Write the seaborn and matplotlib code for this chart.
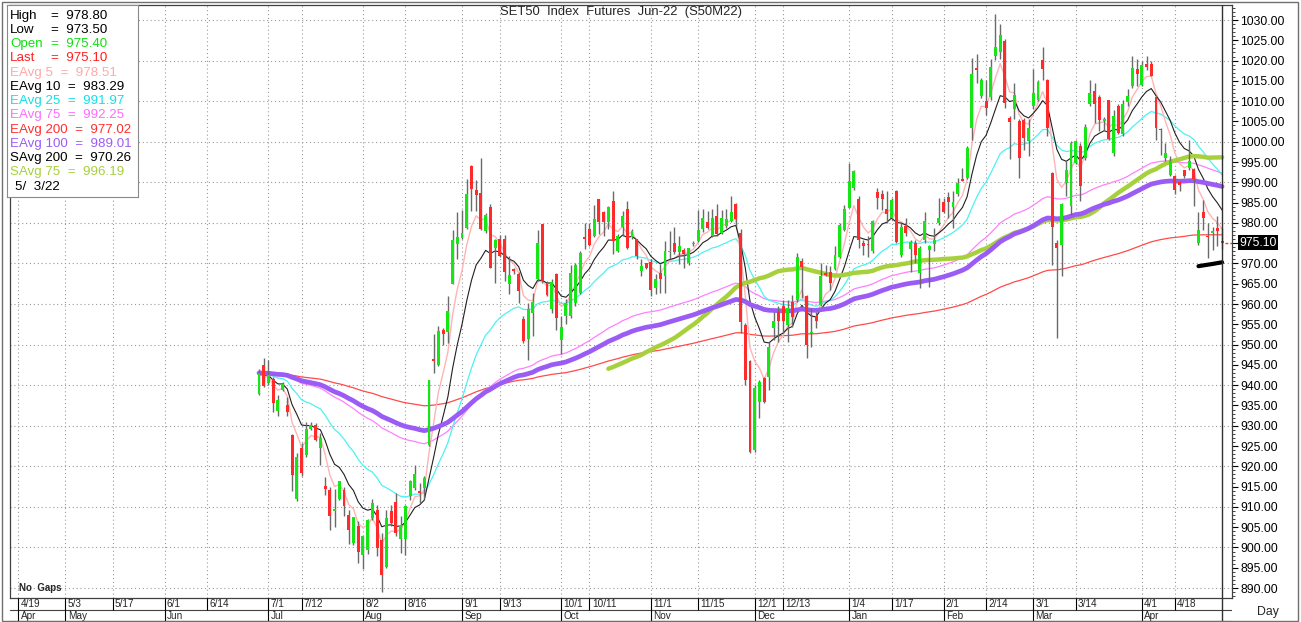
import numpy as np
import pandas as pd
import matplotlib
matplotlib.use("Agg")
import matplotlib.pyplot as plt
import matplotlib.transforms as mtransforms
from matplotlib.ticker import MultipleLocator
import seaborn as sns

# daily OHLC of S50M22 (2021-06-29 .. 2022-05-03)
opens = [937.7, 944.9, 940.6, 941.4, 933.6, 938.8, 935.2, 927.7, 911.9, 924.5,
         922.9, 929.2, 930.1, 924.5, 915.1, 914.1, 909.1, 911.9, 914.2, 908.1,
         901.1, 905.2, 898.2, 899.4, 907.2, 909.3, 901.9, 895.1, 909.1, 911.1,
         902.1, 902.1, 912.6, 914.6, 914.0, 914.6, 925.2, 946.5, 944.9, 953.7,
         953.1, 964.9, 974.7, 976.2, 978.8, 994.1, 988.1, 987.3, 978.0, 984.0,
         973.9, 976.0, 976.0, 964.9, 968.6, 967.3, 956.4, 951.3, 957.9, 966.1,
         979.7, 965.1, 958.7, 967.3, 951.1, 957.0, 957.0, 960.2, 962.6, 976.5,
         978.4, 976.8, 985.8, 982.6, 980.2, 985.4, 973.1, 979.1, 983.5, 976.4,
         976.0, 968.1, 970.0, 970.4, 964.0, 967.7, 966.9, 972.7, 975.0, 972.7,
         973.3, 970.0, 974.7, 975.6, 978.4, 980.1, 976.8, 981.6, 977.6, 979.3,
         980.5, 984.6, 977.6, 954.9, 946.0, 924.0, 935.9, 941.7, 942.1, 954.0,
         958.1, 959.5, 954.9, 960.6, 961.0, 970.7, 961.9, 952.8, 957.1, 959.8,
         967.6, 967.8, 968.6, 971.7, 978.3, 983.7, 988.6, 986.0, 975.0, 974.8,
         973.0, 987.5, 987.0, 983.4, 981.2, 987.8, 972.1, 979.3, 973.5, 975.0,
         967.6, 975.7, 973.2, 974.9, 980.0, 985.1, 986.4, 983.9, 987.0, 990.8,
         991.1, 1003.4, 1018.2, 1011.2, 1010.0, 1011.1, 1021.1, 1022.1, 1024.8, 1005.9,
         1008.0, 1005.1, 1005.3, 1000.1, 1008.8, 1010.4, 1020.1, 1015.2, 992.3, 975.0,
         974.6, 989.8, 984.1, 994.8, 999.0, 996.0, 1009.2, 1012.5, 1011.1, 1005.2,
         1010.2, 997.2, 1008.9, 1001.8, 1009.8, 1013.7, 1018.0, 1013.9, 1019.1, 1019.1,
         1011.1, 1003.2, 996.0, 991.9, 991.5, 990.0, 993.0, 993.5, 993.3, 975.0,
         982.8, 976.8, 977.5, 978.7, 975.4]
highs = [944.0, 946.7, 946.1, 942.0, 937.6, 940.7, 937.0, 928.0, 923.3, 925.8,
         930.9, 931.0, 930.7, 928.2, 917.4, 915.0, 914.4, 916.5, 915.0, 909.3,
         907.5, 906.4, 902.9, 907.0, 911.9, 910.5, 903.5, 909.3, 910.5, 913.4,
         907.7, 910.5, 916.7, 920.4, 916.0, 917.5, 941.3, 952.5, 954.6, 954.1,
         962.0, 978.3, 982.7, 983.2, 990.8, 994.2, 990.6, 996.1, 982.5, 984.6,
         976.1, 977.0, 977.0, 971.9, 969.0, 967.9, 957.0, 960.3, 962.8, 978.3,
         979.8, 965.7, 966.1, 967.7, 957.0, 961.2, 969.5, 970.0, 973.0, 980.0,
         980.0, 984.4, 986.0, 983.0, 984.2, 987.9, 977.2, 983.0, 985.4, 978.4,
         976.1, 971.0, 970.2, 971.0, 967.3, 969.8, 975.6, 978.0, 979.1, 976.8,
         973.9, 973.9, 975.5, 983.2, 983.4, 983.0, 983.4, 984.6, 983.2, 983.4,
         986.7, 985.0, 978.4, 955.3, 946.2, 940.0, 941.3, 942.1, 950.7, 958.1,
         959.4, 961.0, 961.0, 962.3, 972.6, 971.3, 962.3, 959.0, 958.1, 970.1,
         969.7, 969.4, 974.2, 980.0, 984.5, 994.8, 993.1, 986.5, 975.8, 976.7,
         980.8, 988.6, 988.2, 987.8, 986.1, 988.2, 980.0, 981.2, 975.8, 975.8,
         974.2, 982.8, 974.6, 978.7, 986.1, 986.1, 987.5, 987.8, 991.1, 993.5,
         998.9, 1020.7, 1021.5, 1015.8, 1015.3, 1020.5, 1031.4, 1028.9, 1025.4, 1006.3,
         1014.4, 1005.5, 1005.9, 1005.5, 1018.0, 1015.2, 1023.4, 1015.5, 992.5, 975.8,
         985.0, 995.2, 1000.1, 1000.5, 999.7, 1004.3, 1015.1, 1014.5, 1011.6, 1006.0,
         1010.4, 1007.9, 1009.4, 1010.4, 1012.9, 1021.1, 1020.3, 1019.9, 1021.1, 1019.9,
         1011.6, 1003.4, 999.7, 996.4, 991.9, 990.2, 993.1, 1000.5, 993.5, 982.6,
         985.7, 980.0, 979.1, 981.6, 978.8]
lows = [937.5, 939.5, 940.0, 933.3, 932.3, 938.5, 932.5, 914.0, 911.5, 917.5,
        922.3, 929.0, 926.2, 920.4, 913.0, 904.2, 905.0, 911.7, 907.7, 900.8,
        900.6, 896.1, 894.6, 898.5, 906.8, 897.8, 889.0, 895.0, 905.2, 902.7,
        898.6, 898.2, 911.8, 914.2, 910.9, 912.0, 925.0, 943.0, 944.8, 950.0,
        950.3, 964.9, 971.0, 976.0, 978.4, 983.0, 983.0, 978.3, 977.6, 968.8,
        965.3, 971.5, 965.7, 962.4, 967.5, 960.2, 950.3, 946.2, 952.1, 965.7,
        965.3, 962.0, 957.9, 953.7, 947.6, 955.0, 956.6, 959.5, 962.4, 973.5,
        974.3, 976.4, 977.2, 976.8, 978.4, 972.3, 972.7, 976.8, 973.5, 976.0,
        971.2, 966.9, 968.6, 962.0, 962.4, 962.8, 962.6, 971.0, 972.3, 969.8,
        969.0, 969.5, 974.3, 975.2, 977.8, 978.4, 976.4, 976.8, 977.2, 978.8,
        980.1, 979.3, 952.9, 940.0, 923.2, 923.6, 931.8, 935.5, 938.8, 951.2,
        950.7, 952.8, 950.7, 954.4, 960.6, 961.6, 946.6, 949.5, 954.0, 959.4,
        966.8, 963.5, 968.4, 971.3, 978.0, 983.6, 988.2, 973.8, 972.0, 971.7,
        972.6, 983.5, 983.2, 980.0, 980.8, 975.0, 971.7, 976.7, 968.0, 970.1,
        963.9, 975.0, 964.3, 973.0, 979.5, 982.4, 981.2, 978.7, 986.5, 990.2,
        990.7, 1000.5, 1014.5, 1010.8, 1006.7, 1010.4, 1020.1, 1020.3, 1008.4, 995.8,
        1005.5, 991.0, 998.0, 996.4, 1008.0, 1010.0, 1015.3, 1001.4, 969.7, 951.6,
        966.8, 986.5, 982.0, 994.4, 985.3, 995.6, 1008.8, 1004.7, 1002.6, 1002.8,
        1000.5, 996.4, 1001.8, 1001.5, 1008.8, 1013.3, 1013.7, 1013.7, 1017.8, 1016.2,
        1000.5, 996.8, 995.2, 991.5, 987.0, 987.8, 991.1, 993.1, 984.1, 974.6,
        978.3, 971.3, 973.4, 974.2, 973.5]
closes = [943.0, 939.8, 942.6, 935.6, 936.3, 940.2, 933.3, 917.9, 922.2, 918.4,
          929.2, 930.3, 926.6, 927.0, 914.5, 907.7, 909.4, 916.3, 910.3, 904.2,
          907.4, 898.8, 902.7, 906.8, 910.9, 899.8, 893.3, 907.2, 906.0, 903.5,
          905.6, 910.1, 916.3, 918.1, 913.3, 917.0, 941.2, 945.9, 953.3, 952.5,
          958.3, 975.8, 976.4, 977.4, 987.1, 988.3, 986.9, 978.6, 982.0, 969.0,
          975.8, 971.9, 967.9, 967.1, 968.1, 963.2, 950.9, 958.7, 960.5, 975.0,
          965.7, 962.1, 965.5, 956.6, 954.4, 960.3, 967.7, 969.5, 972.5, 976.1,
          974.5, 980.9, 980.2, 980.1, 983.8, 975.6, 976.8, 981.7, 973.9, 977.9,
          971.9, 969.4, 969.0, 963.5, 966.1, 966.1, 973.1, 973.1, 972.7, 974.2,
          972.3, 973.7, 975.1, 978.3, 981.2, 978.8, 981.1, 977.2, 981.1, 981.0,
          982.7, 980.9, 955.6, 941.3, 923.6, 939.2, 940.9, 935.9, 949.5, 955.7,
          955.9, 955.7, 959.0, 956.9, 971.6, 969.1, 949.9, 953.2, 955.9, 966.8,
          967.2, 965.1, 972.1, 979.5, 983.4, 990.2, 992.7, 975.8, 974.2, 974.5,
          980.4, 986.1, 985.9, 982.3, 985.7, 975.4, 979.1, 977.5, 975.4, 972.1,
          973.8, 980.4, 974.2, 975.8, 981.2, 982.8, 985.1, 985.1, 989.8, 990.4,
          998.5, 1016.6, 1017.8, 1015.3, 1008.4, 1018.5, 1023.4, 1026.2, 1009.6, 1004.8,
          1011.6, 996.0, 1000.9, 1003.4, 1012.1, 1014.7, 1018.0, 1003.4, 979.1, 973.8,
          984.7, 993.0, 999.7, 1000.1, 989.0, 1003.7, 1012.1, 1009.2, 1005.3, 1005.5,
          1000.7, 1006.3, 1002.2, 1009.2, 1011.3, 1018.2, 1016.6, 1018.8, 1018.5, 1016.3,
          1003.4, 1002.8, 997.2, 995.2, 988.2, 989.4, 991.5, 995.2, 990.7, 978.3,
          981.2, 976.5, 977.9, 978.1, 975.1]

# SET closed days inside the data range
holidays = ["2021-07-26", "2021-07-28", "2021-08-12", "2021-09-24", "2021-10-13",
            "2021-10-22", "2021-12-06", "2021-12-10", "2021-12-31", "2022-01-03",
            "2022-02-16", "2022-04-06", "2022-04-13", "2022-04-14", "2022-04-15",
            "2022-05-02"]

date_ticks = ["2021-04-19", "2021-05-03", "2021-05-17", "2021-06-01", "2021-06-14",
              "2021-07-01", "2021-07-12", "2021-08-02", "2021-08-16", "2021-09-01",
              "2021-09-13", "2021-10-01", "2021-10-11", "2021-11-01", "2021-11-15",
              "2021-12-01", "2021-12-13", "2022-01-04", "2022-01-17", "2022-02-01",
              "2022-02-14", "2022-03-01", "2022-03-14", "2022-04-01", "2022-04-18"]

legend_rows = [("EAvg 5", "978.51", "#ffa8a8"), ("EAvg 10", "983.29", "black"),
               ("EAvg 25", "991.97", "#14e0e8"), ("EAvg 75", "992.25", "#ff6cff"),
               ("EAvg 200", "977.02", "#ff3030"), ("EAvg 100", "989.01", "#9b5cf6"),
               ("SAvg 200", "970.26", "black"), ("SAvg 75", "996.19", "#a6d13c")]
ohlc_rows = [("High", "978.80", "black"), ("Low", "973.50", "black"),
             ("Open", "975.40", "#10e010"), ("Last", "975.10", "#ff2020")]

# ---- x positions (no gaps: only trading sessions take a slot) ----
pre = pd.bdate_range("2021-04-19", "2021-06-28")
sess = pd.bdate_range("2021-06-29", "2022-05-03", freq="C", holidays=holidays)
all_dates = pre.append(sess)
pos_of = {d: i for i, d in enumerate(all_dates)}

df = pd.DataFrame({"x": np.arange(len(pre), len(all_dates)), "open": opens,
                   "high": highs, "low": lows, "close": closes})
for n in (5, 10, 25, 75, 100, 200):
    df[f"ema{n}"] = df["close"].ewm(span=n, adjust=False).mean()
df["sma75"] = df["close"].rolling(75).mean()
df["sma200"] = df["close"].rolling(200).mean()

sns.set_style("white")
plt.rcParams["font.family"] = ["Liberation Sans", "DejaVu Sans"]

W, H = 1301, 622
fig = plt.figure(figsize=(W / 100, H / 100), dpi=100)


def fbox(x0, y0, x1, y1):
    return [x0 / W, 1 - y1 / H, (x1 - x0) / W, (y1 - y0) / H]


ax = fig.add_axes(fbox(10, 5, 1232, 598))
axb = fig.add_axes(fbox(10, 598, 1232, 621))
xlim = (-1.75, 257.1)

# grid
for lv in range(890, 1031, 10):
    ax.axhline(lv, color="#9a9a9a", lw=0.8, ls=(0, (1, 2.5)), zorder=0)
tick_pos = [pos_of[pd.Timestamp(d)] for d in date_ticks]
for p in tick_pos:
    ax.axvline(p, color="#9a9a9a", lw=0.8, ls=(0, (1, 2.5)), zorder=0)

# moving averages
ma_style = [("ema200", "#ff4a4a", 0.9), ("ema75", "#ff80ff", 0.9), ("ema25", "#4cf2f2", 0.9),
            ("ema5", "#ffb4b4", 1.0), ("ema10", "#202020", 0.8),
            ("sma75", "#a6d13c", 3.2), ("ema100", "#9b5cf6", 3.4), ("sma200", "black", 3.0)]
for col, c, lw in ma_style:
    sns.lineplot(data=df, x="x", y=col, ax=ax, color=c, linewidth=lw, zorder=2)

# candles
ax.vlines(df["x"], df["low"], df["high"], color="#6a6a6a", lw=1.0, zorder=3)
up = df["close"] >= df["open"]
bottom = np.minimum(df["open"], df["close"])
height = np.maximum((df["close"] - df["open"]).abs(), 0.35)
ax.bar(df["x"][up], height[up], bottom=bottom[up], width=0.62, color="#16e616", lw=0, zorder=4)
ax.bar(df["x"][~up], height[~up], bottom=bottom[~up], width=0.62, color="#ff2b2b", lw=0, zorder=4)

last_x = df["x"].iloc[-1]
ax.axvline(last_x, color="#303030", lw=1.0, zorder=5)
ax.hlines(closes[-1], last_x + 0.6, xlim[1], color="#ff3030", lw=1, ls=(0, (2, 1.5)), zorder=5)

ax.set_xlim(*xlim)
ax.set_ylim(887.54, 1033.7)
ax.set_xlabel("")
ax.set_ylabel("")
ax.set_xticks([])
ax.yaxis.tick_right()
yt = np.arange(890, 1031, 5)
ax.set_yticks(yt)
ax.set_yticklabels(["" if v == 975 else f"{v:.2f}" for v in yt])
ax.yaxis.set_minor_locator(MultipleLocator(1))
ax.tick_params(axis="y", which="major", length=4, width=0.8, pad=2, labelsize=8.8, colors="black")
ax.tick_params(axis="y", which="minor", length=2, width=0.6)
for s in ax.spines.values():
    s.set_color("#404040")
    s.set_linewidth(0.9)

trans = mtransforms.blended_transform_factory(ax.transAxes, ax.transData)
ax.text(1.0058, closes[-1], f"{closes[-1]:.2f}", transform=trans, color="white", fontsize=8.8,
        va="center", ha="left", bbox=dict(fc="black", ec="none", pad=1.0), zorder=6)

ax.text(0.5, 0.988, "SET50  Index  Futures  Jun-22  (S50M22)", transform=ax.transAxes,
        ha="center", va="center", fontsize=9.4)
ax.text(0.007, 0.008, "No  Gaps", transform=ax.transAxes, ha="left", va="bottom",
        fontsize=7, fontweight="bold", fontstretch="condensed")

# bottom date rows
axb.set_xlim(*xlim)
axb.set_ylim(0, 2)
axb.axis("off")
axb.axhline(1, color="#404040", lw=0.8)
axb.axhline(0.02, color="#404040", lw=0.8)
for d, p in zip(date_ticks, tick_pos):
    ts = pd.Timestamp(d)
    axb.vlines(p, 1, 2, color="black", lw=0.8)
    axb.text(p + 0.5, 1.45, f"{ts.month}/{ts.day}", fontsize=7.2, ha="left", va="center",
             fontstretch="condensed")
month_first = pd.Series(all_dates).groupby(all_dates.to_period("M")).first()
for ts in month_first.iloc[:-1]:
    p = pos_of[ts]
    axb.vlines(p, 0, 1, color="black", lw=0.8)
    axb.text(p + 0.5, 0.45, ts.strftime("%b"), fontsize=7.2, ha="left", va="center",
             fontstretch="condensed")
axb.vlines(last_x, 0, 2, color="#303030", lw=1.0)

fig.text(1268 / W, 1 - 612 / H, "Day", ha="center", va="center", fontsize=8.8)

# legend box
lg = fig.add_axes(fbox(7, 5, 138, 197))
lg.set_xlim(0, 131)
lg.set_ylim(192, 0)
lg.set_xticks([])
lg.set_yticks([])
lg.set_facecolor("white")
for s in lg.spines.values():
    s.set_color("#8a8a8a")
    s.set_linewidth(0.8)
row_y = 10.7
for name, val, c in ohlc_rows:
    lg.text(3, row_y, name, color=c, fontsize=9.6, va="center")
    lg.text(44, row_y, f"=  {val}", color=c, fontsize=9.6, va="center")
    row_y += 14.25
for name, val, c in legend_rows:
    lg.text(3, row_y, f"{name}  =  {val}", color=c, fontsize=9.6, va="center")
    row_y += 14.25
lg.text(8, row_y, "5/  3/22", color="black", fontsize=9.6, va="center")

# outer frame
fig.patches.append(plt.Rectangle((2 / W, 1 / H), 1296 / W, 619 / H, transform=fig.transFigure,
                                 fill=False, ec="#707070", lw=1))

fig.savefig("out.png", dpi=100)
